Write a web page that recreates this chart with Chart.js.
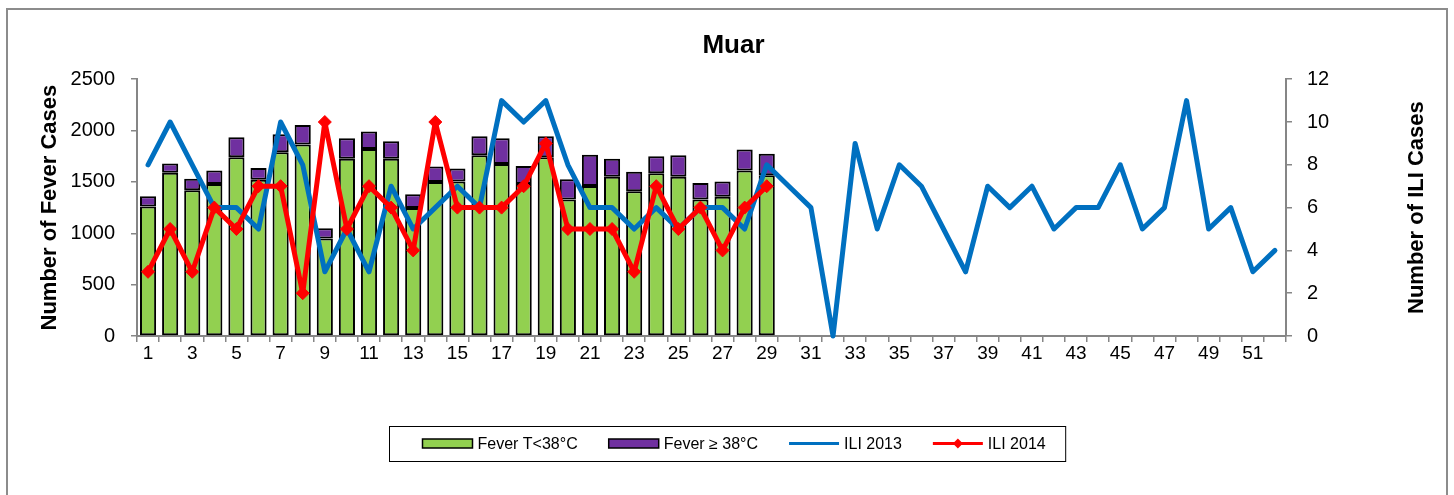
<!DOCTYPE html>
<html>
<head>
<meta charset="utf-8">
<title>Muar</title>
<script src="https://cdn.jsdelivr.net/npm/chart.js@4/dist/chart.umd.min.js"></script>
<style>
  html, body { margin: 0; padding: 0; background: #fff; }
  #cadre { position: absolute; left: 0; top: 0; width: 1454px; height: 495px; overflow: hidden; }
  #bord { position: absolute; left: 6px; top: 8px; width: 1438px; height: 540px; border: 2px solid #8c8c8c; }
  canvas { position: absolute; left: 0; top: 0; }
</style>
</head>
<body>
<div id="cadre">
  <div id="bord"></div>
  <canvas id="graphique" width="1454" height="495"></canvas>
</div>
<script>
/* Semaines épidémiologiques */
const semaines = ['1','2','3','4','5','6','7','8','9','10','11','12','13','14','15','16','17','18','19','20',
  '21','22','23','24','25','26','27','28','29','30','31','32','33','34','35','36','37','38','39','40',
  '41','42','43','44','45','46','47','48','49','50','51','52'];

/* Fièvre T<38°C (vert) et fièvre >= 38°C (violet), semaines 1 à 29 */
const feverBas = [1260, 1590, 1420, 1480, 1740, 1520, 1790, 1865, 950, 1725,
  1820, 1725, 1245, 1500, 1505, 1760, 1675, 1480, 1740, 1330,
  1460, 1550, 1410, 1585, 1550, 1330, 1355, 1610, 1565];
const feverHaut = [100, 90, 110, 130, 195, 115, 175, 190, 100, 200,
  170, 170, 135, 150, 125, 185, 250, 175, 205, 195,
  305, 175, 190, 165, 210, 160, 150, 205, 210];

/* Cas ILI */
const ili2013 = [8, 10, 8, 6, 6, 5, 10, 8, 3, 5,
  3, 7, 5, 6, 7, 6, 11, 10, 11, 8,
  6, 6, 5, 6, 5, 6, 6, 5, 8, 7,
  6, 0, 9, 5, 8, 7, 5, 3, 7, 6,
  7, 5, 6, 6, 8, 5, 6, 11, 5, 6, 3, 4];
const ili2014 = [3, 5, 3, 6, 5, 7, 7, 2, 10, 5,
  7, 6, 4, 10, 6, 6, 6, 7, 9, 5,
  5, 5, 3, 7, 5, 6, 4, 6, 7];

/* Graduations */
const ticksFever = { min: 0, max: 2500, pas: 500 };
const ticksIli = { min: 0, max: 12, pas: 2 };
const titreDroite = 'Number of ILI Cases';

const gris = '#868686';
const police = '"Liberation Sans", Arial, sans-serif';

Chart.defaults.font.family = police;
Chart.defaults.color = '#000';

// Titre de l'axe droit, écrit de bas en haut comme celui de gauche
const titreAxeDroit = {
  id: 'titreAxeDroit',
  afterDraw(chart) {
    const s = chart.scales.y1;
    const ctx = chart.ctx;
    ctx.save();
    ctx.translate(s.right - 13, (chart.chartArea.top + chart.chartArea.bottom) / 2);
    ctx.rotate(-Math.PI / 2);
    ctx.font = 'bold 22px ' + police;
    ctx.fillStyle = '#000';
    ctx.textAlign = 'center';
    ctx.textBaseline = 'middle';
    ctx.fillText(titreDroite, 0, 0);
    ctx.restore();
  }
};

// Légende maison : boîte encadrée sous le graphique
const legendeMaison = {
  id: 'legendeMaison',
  afterDraw(chart) {
    const ctx = chart.ctx;
    const haut = 426, hauteur = 35;
    const symbole = 50, ecart = 5, entre = 31, margeG = 33, margeD = 20;
    ctx.save();
    ctx.font = '16px ' + police;
    const items = chart.data.datasets.map(ds => ({ ds, w: ctx.measureText(ds.label).width }));
    let total = margeG + margeD + entre * (items.length - 1);
    items.forEach(it => { total += symbole + ecart + it.w; });
    const gauche = Math.round(chart.width / 2 - total / 2) + 0.5;
    ctx.strokeStyle = '#000';
    ctx.lineWidth = 1;
    ctx.strokeRect(gauche, haut + 0.5, total, hauteur);

    const cy = haut + hauteur / 2;
    let x = gauche + margeG;
    items.forEach(it => {
      const ds = it.ds;
      if (ds.type === 'bar') {
        ctx.fillStyle = ds.backgroundColor;
        ctx.fillRect(x, cy - 4.5, symbole, 9);
        ctx.lineWidth = 1.5;
        ctx.strokeStyle = '#000';
        ctx.strokeRect(x, cy - 4.5, symbole, 9);
      } else {
        ctx.strokeStyle = ds.borderColor;
        ctx.lineWidth = 3;
        ctx.beginPath();
        ctx.moveTo(x, cy);
        ctx.lineTo(x + symbole, cy);
        ctx.stroke();
        if (ds.pointRadius > 0) {
          const r = 5;
          const mx = x + symbole / 2;
          ctx.fillStyle = ds.pointBackgroundColor;
          ctx.beginPath();
          ctx.moveTo(mx, cy - r);
          ctx.lineTo(mx + r, cy);
          ctx.lineTo(mx, cy + r);
          ctx.lineTo(mx - r, cy);
          ctx.closePath();
          ctx.fill();
        }
      }
      x += symbole + ecart;
      ctx.fillStyle = '#000';
      ctx.textBaseline = 'middle';
      ctx.textAlign = 'left';
      ctx.fillText(ds.label, x, cy + 1);
      x += it.w + entre;
    });
    ctx.restore();
  }
};

const ctx = document.getElementById('graphique').getContext('2d');
new Chart(ctx, {
  type: 'bar',
  data: {
    labels: semaines,
    datasets: [
      {
        type: 'bar',
        label: 'Fever T<38°C',
        data: feverBas,
        backgroundColor: '#92D050',
        borderColor: '#000',
        borderWidth: 2,
        borderSkipped: false,
        barPercentage: 0.73,
        categoryPercentage: 1.0,
        yAxisID: 'y',
        order: 2
      },
      {
        type: 'bar',
        label: 'Fever ≥ 38°C',
        data: feverHaut,
        backgroundColor: '#7030A0',
        borderColor: '#000',
        borderWidth: 2,
        borderSkipped: false,
        barPercentage: 0.73,
        categoryPercentage: 1.0,
        yAxisID: 'y',
        order: 3
      },
      {
        type: 'line',
        label: 'ILI 2013',
        data: ili2013,
        borderColor: '#0070C0',
        backgroundColor: '#0070C0',
        borderWidth: 5,
        pointRadius: 0,
        tension: 0,
        borderJoinStyle: 'round',
        borderCapStyle: 'round',
        clip: false,
        yAxisID: 'y1',
        order: 1
      },
      {
        type: 'line',
        label: 'ILI 2014',
        data: ili2014,
        borderColor: '#FF0000',
        backgroundColor: '#FF0000',
        borderWidth: 5,
        pointStyle: 'rectRot',
        pointRadius: 6.5,
        pointBackgroundColor: '#FF0000',
        pointBorderColor: '#FF0000',
        pointBorderWidth: 1,
        tension: 0,
        borderJoinStyle: 'round',
        clip: false,
        yAxisID: 'y1',
        order: 0
      }
    ]
  },
  options: {
    responsive: false,
    animation: false,
    devicePixelRatio: 1,
    layout: { padding: { top: 30, left: 37, right: 24, bottom: 129 } },
    plugins: {
      legend: { display: false },
      tooltip: { enabled: false },
      title: {
        display: true,
        text: 'Muar',
        color: '#000',
        font: { size: 26, weight: 'bold' },
        padding: { top: 0, bottom: 18 }
      }
    },
    scales: {
      x: {
        stacked: true,
        offset: true,
        grid: { offset: true, drawOnChartArea: false, drawTicks: true, tickLength: 6, color: gris, lineWidth: 1.5 },
        border: { color: gris, width: 2 },
        ticks: {
          autoSkip: false,
          maxRotation: 0,
          padding: 0,
          font: { size: 19 },
          callback: function(v, i) {
            return i % 2 === 0 ? this.getLabelForValue(v) : '';
          }
        },
        afterFit(s) { s.height = 30; }
      },
      y: {
        stacked: true,
        position: 'left',
        min: ticksFever.min,
        max: ticksFever.max,
        ticks: { stepSize: ticksFever.pas, padding: 16, font: { size: 20 }, callback: v => String(v) },
        grid: { drawOnChartArea: false, tickLength: 6, color: gris, lineWidth: 1.5 },
        border: { color: gris, width: 2 },
        title: {
          display: true,
          text: 'Number of Fever Cases',
          font: { size: 22, weight: 'bold' },
          padding: 0
        },
        afterFit(s) { s.width = 100; }
      },
      y1: {
        position: 'right',
        min: ticksIli.min,
        max: ticksIli.max,
        ticks: { stepSize: ticksIli.pas, padding: 15, font: { size: 20 }, callback: v => String(v) },
        grid: { drawOnChartArea: false, tickLength: 6, color: gris, lineWidth: 1.5 },
        border: { color: gris, width: 2 },
        title: { display: false },
        afterFit(s) { s.width = 144; }
      }
    }
  },
  plugins: [legendeMaison, titreAxeDroit]
});
</script>
</body>
</html>
